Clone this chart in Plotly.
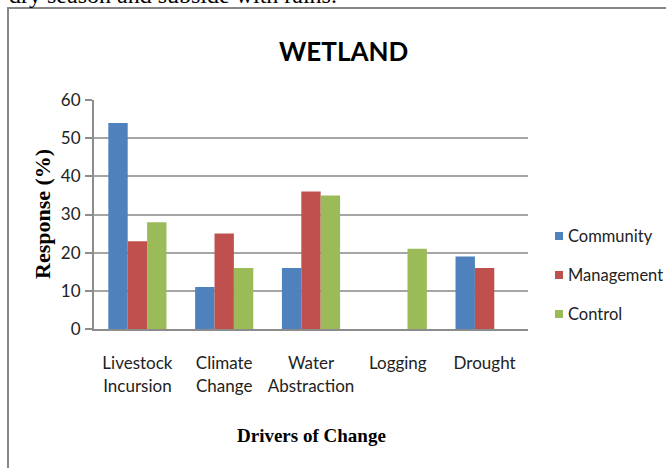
import plotly.graph_objects as go

# Drivers of change for the wetland and the share of respondents (%) per group
categories = ["Livestock<br>Incursion", "Climate<br>Change", "Water<br>Abstraction", "Logging", "Drought"]
community = [54, 11, 16, None, 19]
management = [23, 25, 36, None, 16]
control = [28, 16, 35, 21, None]

series_names = ["Community", "Management", "Control"]
series_values = [community, management, control]
series_colors = ["#4F81BD", "#C0504D", "#9BBB59"]

y_ticks = [0, 10, 20, 30, 40, 50, 60]

W, H = 666, 468
L, R, T, B = 94, 528, 100, 329  # plot area in pixels

def px_x(x):
    return (x - L) / (R - L)

def px_y(y):
    return (B - y) / (B - T)

SANS = "Lato, Liberation Sans, sans-serif"
SERIF = "Liberation Serif, Times New Roman, serif"

fig = go.Figure()
for name, vals, col in zip(series_names, series_values, series_colors):
    fig.add_trace(go.Bar(
        x=categories, y=vals, name=name,
        marker=dict(color=col, line=dict(width=0)),
        showlegend=False,
    ))

shapes = []
annotations = []

# chart frame (runs off the right and bottom of the page)
shapes.append(dict(type="rect", xref="paper", yref="paper",
                   x0=px_x(8), x1=px_x(W + 20), y0=px_y(H + 20), y1=px_y(8),
                   line=dict(color="#878787", width=2), fillcolor="rgba(0,0,0,0)",
                   layer="below"))

# legend drawn as swatches and labels
legend_y = [236, 275, 314]
for name, col, yy in zip(series_names, series_colors, legend_y):
    shapes.append(dict(type="rect", xref="paper", yref="paper",
                       x0=px_x(555), x1=px_x(563), y0=px_y(yy + 4), y1=px_y(yy - 4),
                       line=dict(width=0), fillcolor=col))
    annotations.append(dict(text=name, xref="paper", yref="paper",
                            x=px_x(566), y=px_y(yy), xanchor="left", yanchor="middle",
                            showarrow=False, font=dict(family=SANS, size=16.5, color="#222")))

# chart title
annotations.append(dict(text="<b>WETLAND</b>", xref="paper", yref="paper",
                        x=px_x(343), y=px_y(51), xanchor="center", yanchor="middle",
                        showarrow=False, font=dict(family=SANS, size=26, color="#000")))

# axis titles
annotations.append(dict(text="<b>Drivers of Change</b>", xref="paper", yref="paper",
                        x=px_x(311), y=px_y(435), xanchor="center", yanchor="middle",
                        showarrow=False, font=dict(family=SERIF, size=19, color="#000")))
annotations.append(dict(text="<b>Response (%)</b>", xref="paper", yref="paper",
                        x=px_x(42), y=px_y(214), xanchor="center", yanchor="middle",
                        textangle=-90, showarrow=False,
                        font=dict(family=SERIF, size=22, color="#000")))

# running text of the page above the chart
annotations.append(dict(text="dry season and subside with rains.", xref="paper", yref="paper",
                        x=px_x(7), y=px_y(-5), xanchor="left", yanchor="middle",
                        showarrow=False, font=dict(family=SERIF, size=24, color="#000")))

fig.update_layout(
    width=W, height=H,
    margin=dict(l=L, r=W - R, t=T, b=H - B, pad=0),
    paper_bgcolor="white", plot_bgcolor="white",
    barmode="group", bargap=0.33, bargroupgap=0,
    shapes=shapes, annotations=annotations,
    xaxis=dict(showline=True, linecolor="#8c8c8c", linewidth=2, ticks="",
               tickfont=dict(family=SANS, size=17, color="#222"),
               showgrid=False, ticklabelstandoff=18),
    yaxis=dict(range=[0, 60], tickvals=y_ticks, showline=True, linecolor="#8c8c8c", linewidth=2,
               ticks="outside", ticklen=7, tickcolor="#8c8c8c", tickwidth=1.5,
               gridcolor="#a5a5a5", gridwidth=2, zeroline=False, ticklabelstandoff=1,
               tickfont=dict(family=SANS, size=17, color="#222")),
)

fig.write_html("out.html")
